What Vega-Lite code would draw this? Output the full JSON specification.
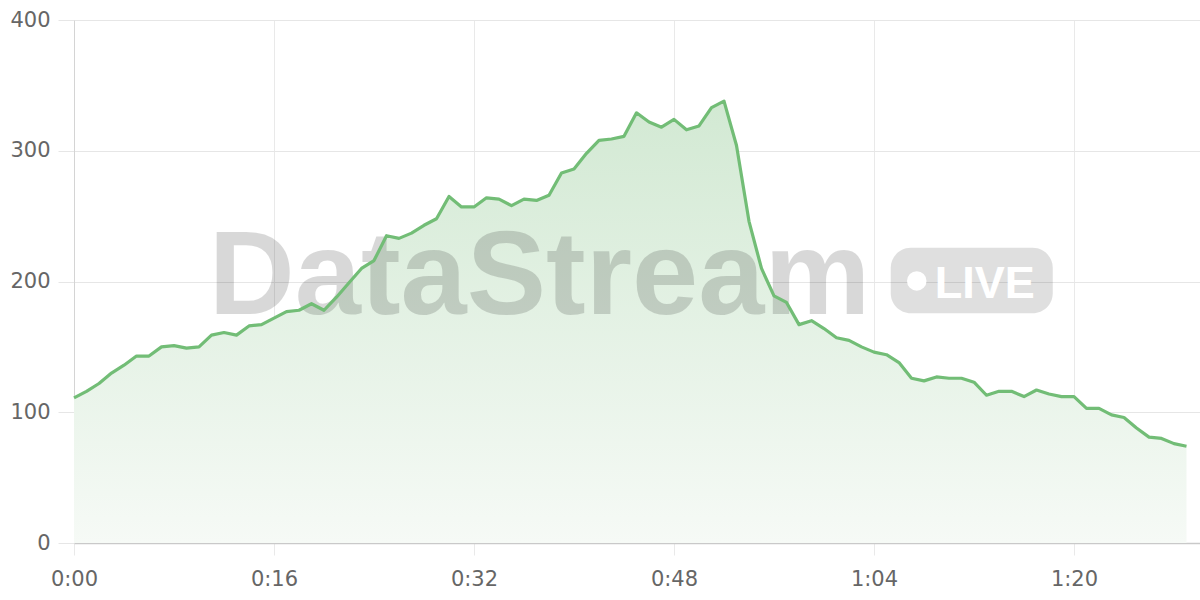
{
  "$schema": "https://vega.github.io/schema/vega-lite/v6.json",
  "width": 1126,
  "height": 523,
  "autosize": {"type": "none"},
  "padding": {"left": 74, "top": 20, "right": 0, "bottom": 57},
  "background": "white",
  "config": {
    "view": {"stroke": null},
    "axis": {
      "labelFont": "DejaVu Sans",
      "labelFontSize": 21,
      "labelColor": "#666666",
      "labelFlush": false,
      "title": null,
      "grid": true
    }
  },
  "datasets": {
    "series": [
      {"t": 0, "v": 111}, {"t": 1, "v": 116}, {"t": 2, "v": 122}, {"t": 3, "v": 130}, {"t": 4, "v": 136},
      {"t": 5, "v": 143}, {"t": 6, "v": 143}, {"t": 7, "v": 150}, {"t": 8, "v": 151}, {"t": 9, "v": 149},
      {"t": 10, "v": 150}, {"t": 11, "v": 159}, {"t": 12, "v": 161}, {"t": 13, "v": 159}, {"t": 14, "v": 166},
      {"t": 15, "v": 167}, {"t": 16, "v": 172}, {"t": 17, "v": 177}, {"t": 18, "v": 178}, {"t": 19, "v": 183},
      {"t": 20, "v": 178}, {"t": 21, "v": 188}, {"t": 22, "v": 199}, {"t": 23, "v": 210}, {"t": 24, "v": 216},
      {"t": 25, "v": 235}, {"t": 26, "v": 233}, {"t": 27, "v": 237}, {"t": 28, "v": 243}, {"t": 29, "v": 248},
      {"t": 30, "v": 265}, {"t": 31, "v": 257}, {"t": 32, "v": 257}, {"t": 33, "v": 264}, {"t": 34, "v": 263},
      {"t": 35, "v": 258}, {"t": 36, "v": 263}, {"t": 37, "v": 262}, {"t": 38, "v": 266}, {"t": 39, "v": 283},
      {"t": 40, "v": 286}, {"t": 41, "v": 298}, {"t": 42, "v": 308}, {"t": 43, "v": 309}, {"t": 44, "v": 311},
      {"t": 45, "v": 329}, {"t": 46, "v": 322}, {"t": 47, "v": 318}, {"t": 48, "v": 324}, {"t": 49, "v": 316},
      {"t": 50, "v": 319}, {"t": 51, "v": 333}, {"t": 52, "v": 338}, {"t": 53, "v": 304}, {"t": 54, "v": 246},
      {"t": 55, "v": 210}, {"t": 56, "v": 189}, {"t": 57, "v": 184}, {"t": 58, "v": 167}, {"t": 59, "v": 170},
      {"t": 60, "v": 164}, {"t": 61, "v": 157}, {"t": 62, "v": 155}, {"t": 63, "v": 150}, {"t": 64, "v": 146},
      {"t": 65, "v": 144}, {"t": 66, "v": 138}, {"t": 67, "v": 126}, {"t": 68, "v": 124}, {"t": 69, "v": 127},
      {"t": 70, "v": 126}, {"t": 71, "v": 126}, {"t": 72, "v": 123}, {"t": 73, "v": 113}, {"t": 74, "v": 116},
      {"t": 75, "v": 116}, {"t": 76, "v": 112}, {"t": 77, "v": 117}, {"t": 78, "v": 114}, {"t": 79, "v": 112},
      {"t": 80, "v": 112}, {"t": 81, "v": 103}, {"t": 82, "v": 103}, {"t": 83, "v": 98}, {"t": 84, "v": 96},
      {"t": 85, "v": 88}, {"t": 86, "v": 81}, {"t": 87, "v": 80}, {"t": 88, "v": 76}, {"t": 89, "v": 74}
    ]
  },
  "layer": [
    {
      "data": {"name": "series"},
      "mark": {
        "type": "area",
        "color": {
          "gradient": "linear",
          "x1": 0, "y1": 0, "x2": 0, "y2": 1,
          "stops": [
            {"offset": 0, "color": "#d2e9d3"},
            {"offset": 1, "color": "#f6faf6"}
          ]
        }
      },
      "encoding": {
        "x": {
          "field": "t",
          "type": "quantitative",
          "scale": {"domain": [0, 90.08], "nice": false, "zero": false},
          "axis": {
            "values": [0, 16, 32, 48, 64, 80],
            "labelExpr": "floor(datum.value / 60) + ':' + (datum.value % 60 < 10 ? '0' : '') + (datum.value % 60)",
            "gridColor": "#e9e9e9",
            "tickColor": "#e9e9e9",
            "tickSize": 12,
            "domainColor": "#c9c9c9",
            "domainWidth": 1.5,
            "labelPadding": 13,
            "labelBaseline": "top"
          }
        },
        "y": {
          "field": "v",
          "type": "quantitative",
          "scale": {"domain": [0, 400], "nice": false},
          "axis": {
            "values": [0, 100, 200, 300, 400],
            "gridColor": "#e6e6e6",
            "tickColor": "#e6e6e6",
            "tickSize": 16,
            "domainColor": "#d4d4d4",
            "labelPadding": 8
          }
        }
      }
    },
    {
      "data": {"values": [{}]},
      "mark": {
        "type": "text",
        "text": "DataStream",
        "font": "Liberation Sans",
        "fontWeight": "bold",
        "fontSize": 119,
        "fill": "#000000",
        "opacity": 0.15,
        "align": "center",
        "baseline": "alphabetic"
      },
      "encoding": {
        "x": {"datum": 37.24, "type": "quantitative"},
        "y": {"datum": 175.5, "type": "quantitative"}
      }
    },
    {
      "data": {"values": [{}]},
      "mark": {"type": "rect", "fill": "#000000", "opacity": 0.125, "cornerRadius": 20},
      "encoding": {
        "x": {"datum": 65.34, "type": "quantitative"},
        "x2": {"datum": 78.3},
        "y": {"datum": 225.8, "type": "quantitative"},
        "y2": {"datum": 175.7}
      }
    },
    {
      "data": {"values": [{}]},
      "mark": {"type": "point", "shape": "circle", "filled": true, "fill": "#ffffff", "opacity": 1, "size": 380, "strokeWidth": 0},
      "encoding": {
        "x": {"datum": 67.42, "type": "quantitative"},
        "y": {"datum": 200.4, "type": "quantitative"}
      }
    },
    {
      "data": {"values": [{}]},
      "mark": {
        "type": "text",
        "text": "LIVE",
        "font": "Liberation Sans",
        "fontWeight": "bold",
        "fontSize": 45,
        "fill": "#ffffff",
        "align": "center",
        "baseline": "alphabetic"
      },
      "encoding": {
        "x": {"datum": 72.86, "type": "quantitative"},
        "y": {"datum": 187.4, "type": "quantitative"}
      }
    },
    {
      "data": {"name": "series"},
      "mark": {"type": "line", "color": "#72bd76", "strokeWidth": 3.2, "strokeJoin": "round"},
      "encoding": {
        "x": {"field": "t", "type": "quantitative"},
        "y": {"field": "v", "type": "quantitative"}
      }
    }
  ]
}
